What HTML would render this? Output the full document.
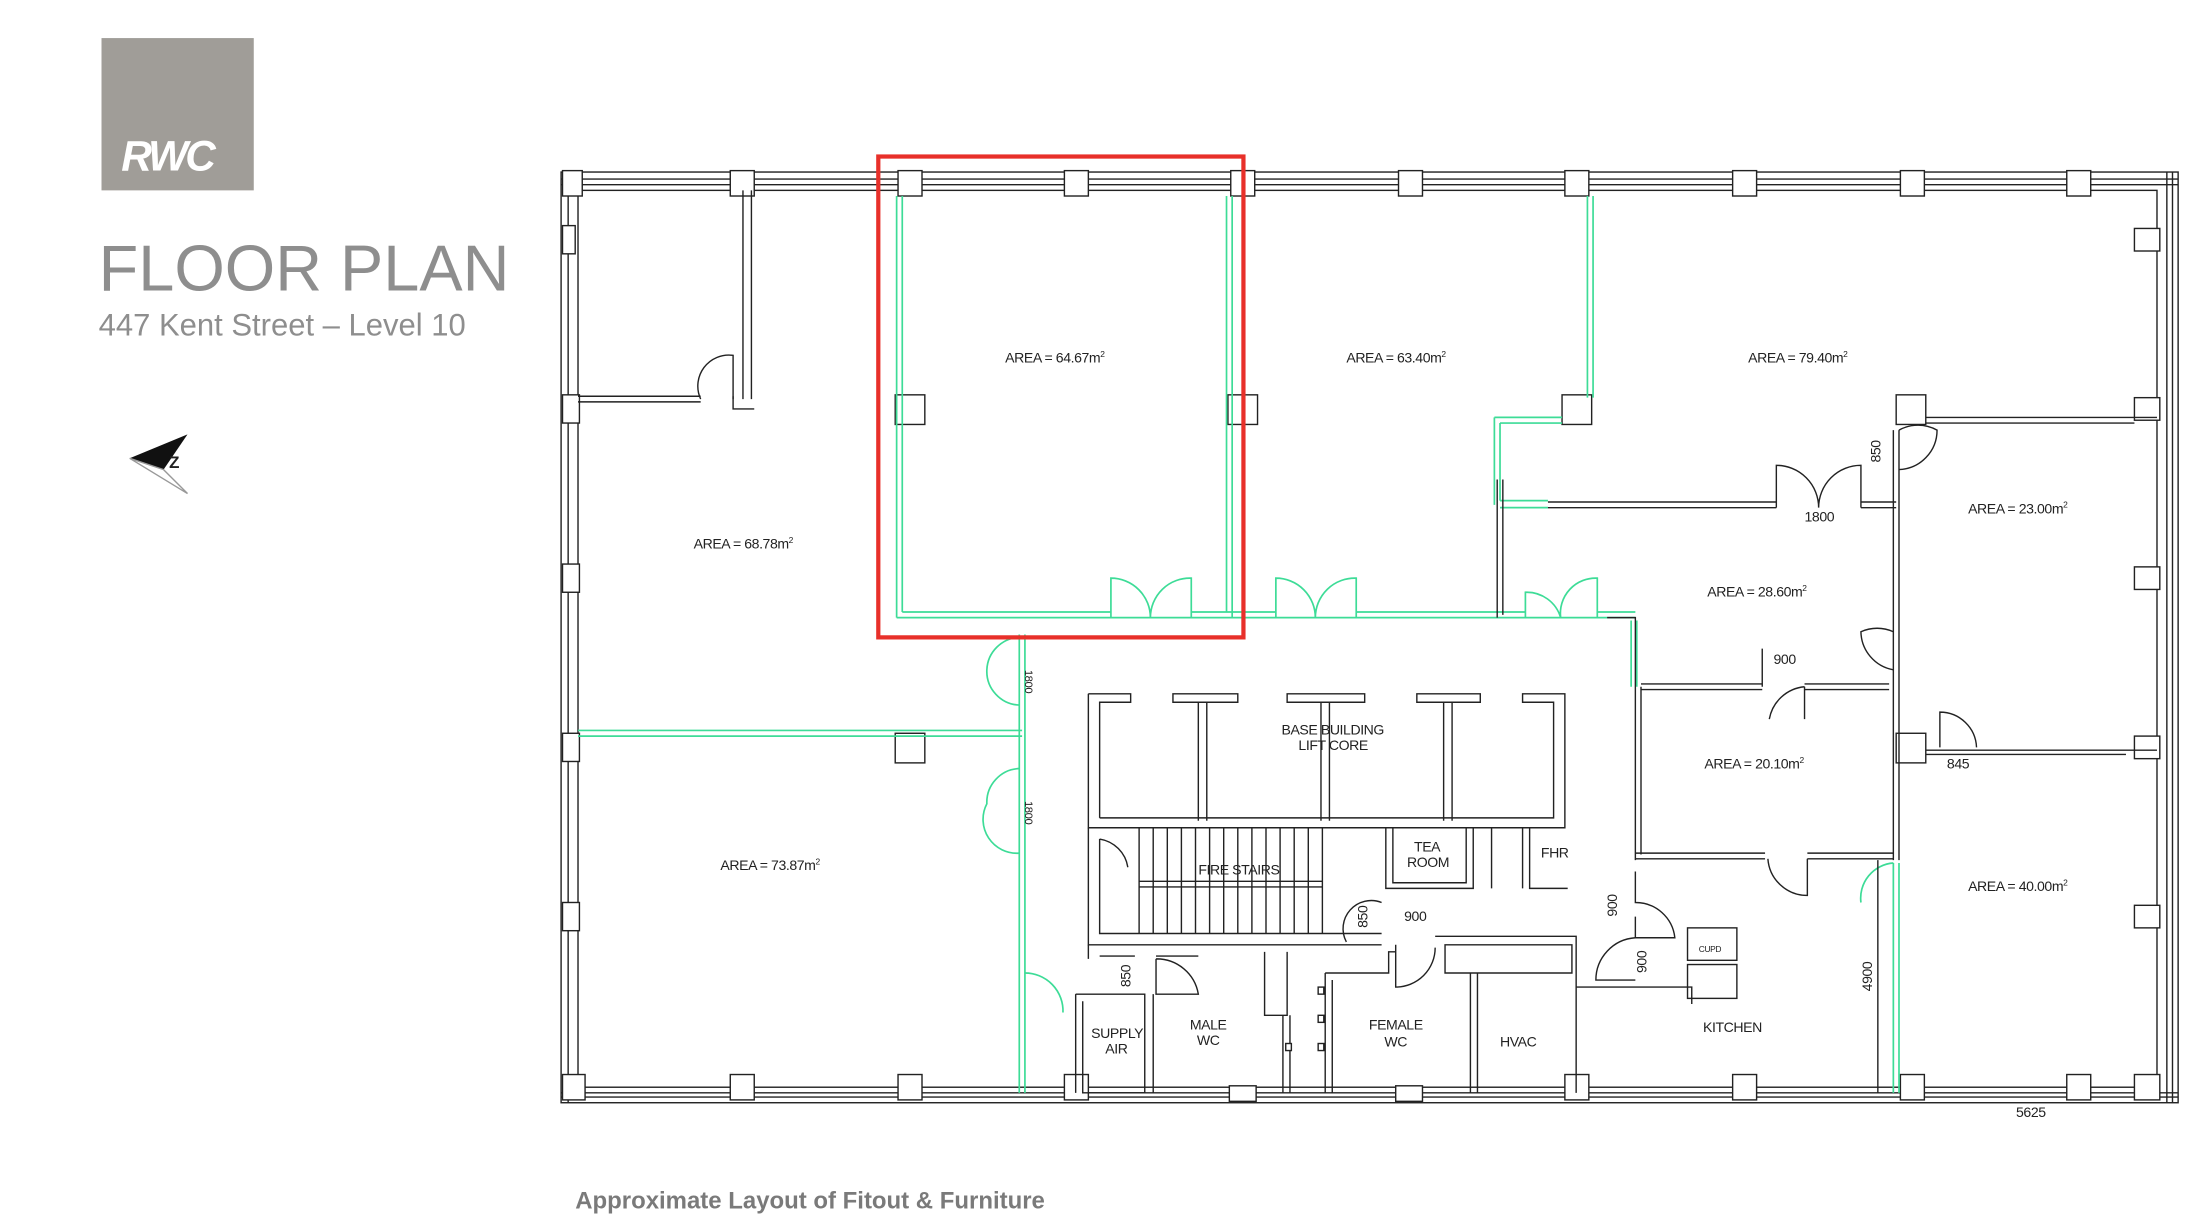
<!DOCTYPE html>
<html><head><meta charset="utf-8"><style>
html,body{margin:0;padding:0;background:#fff;}
svg{display:block;}
</style></head><body>
<svg width="2188" height="1224" viewBox="0 0 1552 868" preserveAspectRatio="none" xmlns="http://www.w3.org/2000/svg" font-family="Liberation Sans, sans-serif">
<rect width="1552" height="868" fill="#fff"/>
<!-- logo -->
<rect x="72" y="27" width="108" height="108" fill="#a09d98"/>
<text x="86" y="121" font-size="30" font-weight="bold" font-style="italic" fill="#fff" letter-spacing="-2">RWC</text>
<text x="70" y="206" font-size="46" fill="#8e8e8e">FLOOR PLAN</text>
<text x="70" y="238" font-size="22" fill="#8e8e8e">447 Kent Street – Level 10</text>
<!-- compass -->
<polygon points="92,325 133,308 116,333" fill="#111"/>
<polygon points="92,325 116,333 133,350" fill="none" stroke="#999" stroke-width="1"/>
<text x="120" y="332" font-size="12" font-weight="bold" fill="#222">Z</text>

<g fill="none" stroke="#222" stroke-width="1">
<!-- outer walls -->
<rect x="398" y="122" width="1147" height="660"/>
<rect x="410" y="135" width="1120" height="636"/>
<line x1="398" y1="127" x2="1545" y2="127"/><line x1="398" y1="131" x2="1545" y2="131"/>
<line x1="398" y1="775" x2="1545" y2="775"/><line x1="398" y1="778" x2="1545" y2="778"/>
<line x1="403" y1="122" x2="403" y2="782"/><line x1="1537" y1="122" x2="1537" y2="782"/>
<line x1="1541" y1="122" x2="1541" y2="782"/>
</g>
<g fill="#fff" stroke="#222" stroke-width="1">
<!-- columns top -->
<rect x="637" y="121" width="17" height="18"/><rect x="755" y="121" width="17" height="18"/><rect x="873" y="121" width="17" height="18"/><rect x="992" y="121" width="17" height="18"/><rect x="1110" y="121" width="17" height="18"/><rect x="1229" y="121" width="17" height="18"/><rect x="1348" y="121" width="17" height="18"/><rect x="1466" y="121" width="17" height="18"/><rect x="518" y="121" width="17" height="18"/><rect x="399" y="121" width="14" height="18"/>
<!-- bottom -->
<rect x="399" y="762" width="16" height="18"/><rect x="518" y="762" width="17" height="18"/><rect x="637" y="762" width="17" height="18"/><rect x="755" y="762" width="17" height="18"/><rect x="872" y="770" width="19" height="11"/><rect x="990" y="770" width="19" height="11"/><rect x="1110" y="762" width="17" height="18"/><rect x="1229" y="762" width="17" height="18"/><rect x="1348" y="762" width="17" height="18"/><rect x="1466" y="762" width="17" height="18"/><rect x="1514" y="762" width="18" height="18"/>
<!-- left side -->
<rect x="399" y="160" width="9" height="20"/><rect x="399" y="280" width="12" height="20"/><rect x="399" y="400" width="12" height="20"/><rect x="399" y="520" width="12" height="20"/><rect x="399" y="640" width="12" height="20"/>
<!-- right side -->
<rect x="1514" y="162" width="18" height="16"/><rect x="1514" y="282" width="18" height="16"/><rect x="1514" y="402" width="18" height="16"/><rect x="1514" y="522" width="18" height="16"/><rect x="1514" y="642" width="18" height="16"/>
<!-- interior columns -->
<rect x="635" y="280" width="21" height="21"/><rect x="871" y="280" width="21" height="21"/><rect x="1108" y="280" width="21" height="21"/><rect x="635" y="520" width="21" height="21"/><rect x="1345" y="280" width="21" height="21"/><rect x="1345" y="520" width="21" height="21"/>
</g>

<!-- green partitions -->
<g fill="none" stroke="#3ddc97" stroke-width="1.2">
<path d="M636 139 V438 M640 139 V434 M870 139 V434 M874 139 V438"/>
<path d="M636 438 H1160 M640 434 H788 M845 434 H905 M962 434 H1082 M1133 434 H1160"/>
<path d="M788 438 V410 A28 28 0 0 1 816 438 A28 28 0 0 1 845 410 V438"/>
<path d="M905 438 V410 A28 28 0 0 1 933 438 A28 28 0 0 1 962 410 V438"/>
<path d="M1082 438 V420 A25 25 0 0 1 1107 438 A25 25 0 0 1 1133 410 V438"/>
<path d="M1126 139 V282 M1130 139 V282"/>
<path d="M1060 296 H1108 M1064 300 H1108 M1060 296 V358 M1064 300 V355 M1064 355 H1098 M1064 360 H1098"/>
<path d="M410 518 H725 M410 522 H725 M723 450 V775 M727 450 V775"/>
<path d="M723 452 A24 24 0 0 0 700 475 A24 24 0 0 0 723 500"/>
<path d="M723 545 A24 24 0 0 0 700 570 A24 24 0 0 0 723 605"/>
<path d="M727 690 A27 27 0 0 1 754 718"/>
<path d="M1157 440 V487 M1161 440 V487"/>
<path d="M1343 612 V775 M1347 612 V775 M1343 612 A25 25 0 0 0 1320 640"/>
</g>

<!-- black internal walls -->
<g fill="none" stroke="#222" stroke-width="1">
<path d="M527 135 V283 M533 135 V283 M410 281 H497 M410 285 H497 M520 281 V290 H535"/>
<path d="M520 283 V252 A22 22 0 0 0 497 283"/>
<path d="M1062 340 V438 M1066 340 V436"/>
<path d="M1098 356 H1260 M1098 360 H1260 M1320 356 H1345 M1320 360 H1345"/>
<path d="M1260 360 V330 A30 30 0 0 1 1290 360 A30 30 0 0 1 1320 330 V360"/>
<path d="M1343 305 V610 M1347 305 V610"/>
<path d="M1366 296 H1530 M1366 300 H1514"/>
<path d="M1347 305 A28 28 0 0 1 1374 305 A28 28 0 0 1 1347 333"/>
<path d="M1343 448 A28 28 0 0 0 1320 448 A28 28 0 0 0 1343 475"/>
<path d="M1366 532 H1530 M1366 535 H1508"/>
<path d="M1376 530 V505 A26 26 0 0 1 1402 530"/>
<path d="M1140 438 H1160 V610 M1164 487 V606"/>
<path d="M1164 485 H1250 M1280 485 H1340 M1164 489 H1250 M1280 489 H1340"/>
<path d="M1250 487 V460 M1280 487 A28 28 0 0 0 1255 510 M1280 487 V510"/>
<path d="M1160 605 H1252 M1160 609 H1252 M1282 605 H1343 M1282 609 H1343"/>
<path d="M1282 609 V635 A28 28 0 0 1 1254 609"/>
<!-- lift core -->
<path d="M772 492 H802 V498 H780 V580 M772 492 V587 H1110 V492 H1080 V498 H1102 V580 H780"/>
<path d="M832 492 H878 V498 H832 Z M850 498 V582 M856 498 V582"/>
<path d="M913 492 H968 V498 H913 Z M937 498 V582 M943 498 V582"/>
<path d="M1005 492 H1050 V498 H1005 Z M1024 498 V582 M1030 498 V582"/>
<!-- stairs -->
<path d="M772 587 V670 H980 M780 595 V662 H980 M772 587 H780 M772 670 V645"/>
<path d="M780 595 A24 24 0 0 1 800 615"/>
<path d="M808 587 V662 M818 587 V662 M828 587 V662 M838 587 V662 M848 587 V662 M858 587 V662 M868 587 V662 M878 587 V662 M888 587 V662 M898 587 V662 M908 587 V662 M918 587 V662 M928 587 V662 M938 587 V662"/>
<path d="M808 625 H938 M808 629 H938"/>
<path d="M983 587 V630 H1045 V587 M988 587 V626 H1040 V587 M1058 587 V630 M1085 587 V630 H1112 M1080 587 V630"/>
<path d="M980 640 A20 20 0 0 0 955 668"/>
<!-- WC area -->
<path d="M772 670 V680 M780 678 H805 M820 678 H850 M820 680 V705 H850 A30 30 0 0 0 820 680"/>
<path d="M763 705 V775 M768 710 V775 H812 V705 H763 M818 705 V775"/>
<path d="M897 675 V720 H913 V675 M910 720 V775 M915 720 V775"/>
<path d="M940 690 H985 V675 H990 M940 690 V775 M945 695 V775"/>
<path d="M990 670 V700 A28 28 0 0 0 1018 672"/>
<path d="M1018 664 H1118 V775 M1025 670 H1115 V690 H1025 Z M1043 690 V775 M1048 690 V775"/>
<path d="M1118 700 H1200 V712 M1160 650 V665 A30 30 0 0 0 1132 695 H1160"/>
<path d="M1160 618 V640 A28 28 0 0 1 1188 665 H1160"/>
<rect x="1197" y="658" width="35" height="23"/><rect x="1197" y="684" width="35" height="24"/>
<path d="M1332 610 V775"/>
</g>
<g fill="#fff" stroke="#222"><rect x="935" y="700" width="4" height="5"/><rect x="935" y="720" width="4" height="5"/><rect x="935" y="740" width="4" height="5"/><rect x="912" y="740" width="4" height="5"/></g>

<!-- red highlight -->
<rect x="623" y="111" width="259" height="341" fill="none" stroke="#e8302a" stroke-width="3"/>

<!-- labels -->
<g font-size="10" fill="#222" letter-spacing="-0.3">
<text x="713" y="257">AREA = 64.67m<tspan font-size="6" dy="-4">2</tspan></text>
<text x="955" y="257">AREA = 63.40m<tspan font-size="6" dy="-4">2</tspan></text>
<text x="1240" y="257">AREA = 79.40m<tspan font-size="6" dy="-4">2</tspan></text>
<text x="492" y="389">AREA = 68.78m<tspan font-size="6" dy="-4">2</tspan></text>
<text x="1396" y="364">AREA = 23.00m<tspan font-size="6" dy="-4">2</tspan></text>
<text x="1211" y="423">AREA = 28.60m<tspan font-size="6" dy="-4">2</tspan></text>
<text x="1209" y="545">AREA = 20.10m<tspan font-size="6" dy="-4">2</tspan></text>
<text x="511" y="617">AREA = 73.87m<tspan font-size="6" dy="-4">2</tspan></text>
<text x="1396" y="632">AREA = 40.00m<tspan font-size="6" dy="-4">2</tspan></text>
<text x="909" y="521">BASE BUILDING</text><text x="921" y="532">LIFT CORE</text>
<text x="850" y="620">FIRE STAIRS</text>
<text x="1003" y="604">TEA</text><text x="998" y="615">ROOM</text>
<text x="1093" y="608">FHR</text>
<text x="774" y="736">SUPPLY</text><text x="784" y="747">AIR</text>
<text x="844" y="730">MALE</text><text x="849" y="741">WC</text>
<text x="971" y="730">FEMALE</text><text x="982" y="742">WC</text>
<text x="1064" y="742">HVAC</text>
<text x="1208" y="732">KITCHEN</text>
<text x="1280" y="370">1800</text>
<text x="1258" y="471">900</text>
<text x="1381" y="545">845</text>
<text x="996" y="653">900</text>
<text x="1430" y="792">5625</text>
<text transform="translate(1334,328) rotate(-90)">850</text>
<text transform="translate(970,658) rotate(-90)">850</text>
<text transform="translate(802,700) rotate(-90)">850</text>
<text transform="translate(1147,650) rotate(-90)">900</text>
<text transform="translate(1168,690) rotate(-90)">900</text>
<text transform="translate(1328,703) rotate(-90)">4900</text>
<text transform="translate(727,475) rotate(90)" font-size="8">1800</text>
<text transform="translate(727,568) rotate(90)" font-size="8">1800</text>
<text x="1205" y="675" font-size="6">CUPD</text>
</g>
<text x="408" y="857" font-size="17" font-weight="bold" fill="#7a7a7a">Approximate Layout of Fitout &amp; Furniture</text>
</svg>
</body></html>
